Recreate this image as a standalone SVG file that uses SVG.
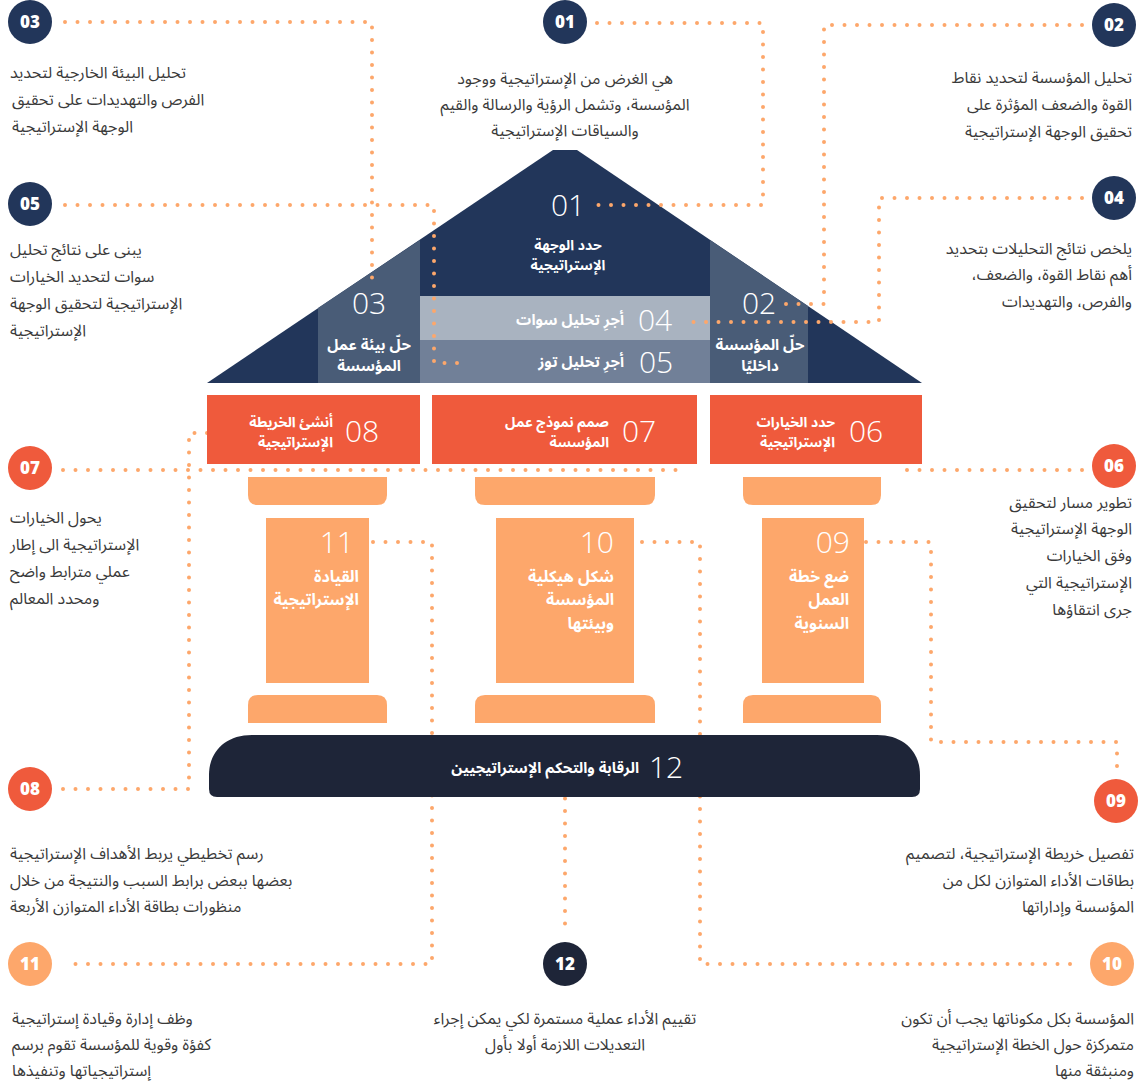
<svg xmlns="http://www.w3.org/2000/svg" width="1139" height="1082" viewBox="0 0 1139 1082">
<style>
.ar{font-family:"Noto Sans Arabic","DejaVu Sans",sans-serif;direction:rtl}
.desc{font-size:16px;fill:#3a3a3a}
.L{text-anchor:end}
.R{text-anchor:start}
.C{text-anchor:middle}
.lbl{font-size:14px;font-weight:bold;fill:#ffffff}
.lbl15{font-size:15px}
.lbl16{font-size:16px}
.num{font-family:"Open Sans",sans-serif;font-weight:300;font-size:30px;fill:#ffffff}
.cn{font-family:"Open Sans",sans-serif;font-weight:800;font-size:17px;fill:#ffffff;text-anchor:middle}
.dots{fill:none;stroke:#fda76b;stroke-width:4;stroke-linecap:round;stroke-dasharray:0 12.5}
.navy{fill:#22365a}
.red{fill:#ef5a3c}
.lor{fill:#fda76b}
.dark{fill:#1e2538}
</style>
<rect width="1139" height="1082" fill="#ffffff"/>

<g id="house">
  <polygon class="navy" points="207,383 553,150 577,150 922,383"/>
  <polygon fill="#495c77" points="318,383 318,308 420,240 420,383"/>
  <polygon fill="#495c77" points="710,240 710,383 808,383 808,306"/>
  <rect x="420" y="296" width="290" height="44" fill="#a9b3c0"/>
  <rect x="420" y="340" width="290" height="43" fill="#718098"/>
  <path class="lor" d="M248,477 H387 V495 Q387,505 377,505 H258 Q248,505 248,495 Z"/>
  <path class="lor" d="M475,477 H655 V495 Q655,505 645,505 H485 Q475,505 475,495 Z"/>
  <path class="lor" d="M743,477 H881 V495 Q881,505 871,505 H753 Q743,505 743,495 Z"/>
  <path class="lor" d="M248,723 V705 Q248,695 258,695 H377 Q387,695 387,705 V723 Z"/>
  <path class="lor" d="M475,723 V705 Q475,695 485,695 H645 Q655,695 655,705 V723 Z"/>
  <path class="lor" d="M743,723 V705 Q743,695 753,695 H871 Q881,695 881,705 V723 Z"/>
</g>

<g id="connectors">
  <polyline class="dots" points="65,22 372,22 372,280"/>
  <polyline class="dots" points="65,205 434,205 434,363 466,363"/>
  <polyline class="dots" points="597,23 763,23 763,205 590,205"/>
  <polyline class="dots" points="1082,25 824,25 824,304 784,304"/>
  <polyline class="dots" points="1082,198 879,198 879,322 684,322"/>
  <polyline class="dots" points="63,470 677,470 677,446"/>
  <polyline class="dots" points="1082,470 903,470 903,446"/>
  <polyline class="dots" points="63,789 189,789 189,433 222,433"/>
  <polyline class="dots" points="866,542 931,542 931,742 1117,742 1117,778"/>
  <polyline class="dots" points="642,542 700,542 700,964 1080,964"/>
  <polyline class="dots" points="373,542 432,542 432,964 63,964"/>
  <polyline class="dots" points="565,786 565,936"/>
</g>

<g id="n01-roof">
  <text class="num" x="568" y="216" text-anchor="middle">01</text>
  <text class="ar lbl C" x="568" y="250">حدد الوجهة</text>
  <text class="ar lbl C" x="568" y="270">الإستراتيجية</text>
</g>
<g id="n03-panel">
  <text class="num" x="369" y="314" text-anchor="middle">03</text>
  <text class="ar lbl lbl15 C" x="369" y="350">حلّ بيئة عمل</text>
  <text class="ar lbl lbl15 C" x="369" y="371">المؤسسة</text>
</g>
<g id="n02-panel">
  <text class="num" x="759" y="314" text-anchor="middle">02</text>
  <text class="ar lbl lbl15 C" x="760" y="350">حلّ المؤسسة</text>
  <text class="ar lbl lbl15 C" x="760" y="371">داخليًا</text>
</g>
<g id="n04-band">
  <text class="num" x="655" y="331" text-anchor="middle">04</text>
  <text class="ar lbl lbl15 R" x="624" y="325">أجرِ تحليل سوات</text>
</g>
<g id="n05-band">
  <text class="num" x="656" y="373" text-anchor="middle">05</text>
  <text class="ar lbl lbl15 R" x="624" y="367">أجرِ تحليل توز</text>
</g>

<g id="n08-box">
  <rect class="red" x="207" y="395" width="213" height="69"/>
  <text class="num" x="362" y="442" text-anchor="middle">08</text>
  <text class="ar lbl R" x="333" y="427">أنشئ الخريطة</text>
  <text class="ar lbl R" x="333" y="447">الإستراتيجية</text>
</g>
<g id="n07-box">
  <rect class="red" x="432" y="395" width="265" height="69"/>
  <text class="num" x="639" y="442" text-anchor="middle">07</text>
  <text class="ar lbl R" x="609" y="427">صمم نموذج عمل</text>
  <text class="ar lbl R" x="609" y="447">المؤسسة</text>
</g>
<g id="n06-box">
  <rect class="red" x="710" y="395" width="212" height="69"/>
  <text class="num" x="866" y="442" text-anchor="middle">06</text>
  <text class="ar lbl R" x="835" y="427">حدد الخيارات</text>
  <text class="ar lbl R" x="835" y="447">الإستراتيجية</text>
</g>

<g id="n11-column">
  <rect class="lor" x="266" y="518" width="103" height="165"/>
  <text class="num" x="354" y="553" text-anchor="end">11</text>
  <text class="ar lbl lbl16 R" x="359" y="582">القيادة</text>
  <text class="ar lbl lbl16 R" x="359" y="605">الإستراتيجية</text>
</g>
<g id="n10-column">
  <rect class="lor" x="496" y="518" width="138" height="165"/>
  <text class="num" x="614" y="553" text-anchor="end">10</text>
  <text class="ar lbl lbl16 R" x="614" y="582">شكل هيكلية</text>
  <text class="ar lbl lbl16 R" x="614" y="605">المؤسسة</text>
  <text class="ar lbl lbl16 R" x="614" y="629">وبيئتها</text>
</g>
<g id="n09-column">
  <rect class="lor" x="762" y="518" width="102" height="165"/>
  <text class="num" x="850" y="553" text-anchor="end">09</text>
  <text class="ar lbl lbl16 R" x="849" y="582">ضع خطة</text>
  <text class="ar lbl lbl16 R" x="849" y="605">العمل</text>
  <text class="ar lbl lbl16 R" x="849" y="629">السنوية</text>
</g>

<g id="n12-foundation">
  <path class="dark" d="M209,789 V775 C209,752 225,735 252,735 H877 C904,735 920,752 920,775 V789 Q920,797 912,797 H217 Q209,797 209,789 Z"/>
  <text class="num" x="666" y="778" text-anchor="middle">12</text>
  <text class="ar lbl lbl15 R" x="639" y="773">الرقابة والتحكم الإستراتيجيين</text>
</g>

<g id="c03">
  <circle class="navy" cx="30" cy="22" r="22"/>
  <text class="cn" x="30" y="28">03</text>
  <text class="ar desc L" x="10" y="78">تحليل البيئة الخارجية لتحديد</text>
  <text class="ar desc L" x="12" y="105">الفرص والتهديدات على تحقيق</text>
  <text class="ar desc L" x="12" y="132">الوجهة الإستراتيجية</text>
</g>
<g id="c01">
  <circle class="navy" cx="565" cy="22" r="22"/>
  <text class="cn" x="565" y="28">01</text>
  <text class="ar desc C" x="565" y="84">هي الغرض من الإستراتيجية ووجود</text>
  <text class="ar desc C" x="565" y="110">المؤسسة، وتشمل الرؤية والرسالة والقيم</text>
  <text class="ar desc C" x="565" y="136">والسياقات الإستراتيجية</text>
</g>
<g id="c02">
  <circle class="navy" cx="1114" cy="25" r="22"/>
  <text class="cn" x="1114" y="31">02</text>
  <text class="ar desc R" x="1132" y="83">تحليل المؤسسة لتحديد نقاط</text>
  <text class="ar desc R" x="1132" y="110">القوة والضعف المؤثرة على</text>
  <text class="ar desc R" x="1132" y="137">تحقيق الوجهة الإستراتيجية</text>
</g>
<g id="c05">
  <circle class="navy" cx="30" cy="204" r="22"/>
  <text class="cn" x="30" y="210">05</text>
  <text class="ar desc L" x="10" y="255">يبنى على نتائج تحليل</text>
  <text class="ar desc L" x="10" y="282">سوات لتحديد الخيارات</text>
  <text class="ar desc L" x="10" y="309">الإستراتيجية لتحقيق الوجهة</text>
  <text class="ar desc L" x="10" y="336">الإستراتيجية</text>
</g>
<g id="c04">
  <circle class="navy" cx="1114" cy="198" r="22"/>
  <text class="cn" x="1114" y="204">04</text>
  <text class="ar desc R" x="1132" y="254">يلخص نتائج التحليلات بتحديد</text>
  <text class="ar desc R" x="1132" y="280">أهم نقاط القوة، والضعف،</text>
  <text class="ar desc R" x="1132" y="307">والفرص، والتهديدات</text>
</g>
<g id="c07">
  <circle class="red" cx="30" cy="468" r="22"/>
  <text class="cn" x="30" y="474">07</text>
  <text class="ar desc L" x="10" y="523">يحول الخيارات</text>
  <text class="ar desc L" x="10" y="550">الإستراتيجية الى إطار</text>
  <text class="ar desc L" x="10" y="577">عملي مترابط واضح</text>
  <text class="ar desc L" x="10" y="604">ومحدد المعالم</text>
</g>
<g id="c06">
  <circle class="red" cx="1114" cy="466" r="22"/>
  <text class="cn" x="1114" y="472">06</text>
  <text class="ar desc R" x="1132" y="508">تطوير مسار لتحقيق</text>
  <text class="ar desc R" x="1132" y="534">الوجهة الإستراتيجية</text>
  <text class="ar desc R" x="1132" y="561">وفق الخيارات</text>
  <text class="ar desc R" x="1132" y="588">الإستراتيجية التي</text>
  <text class="ar desc R" x="1132" y="615">جرى انتقاؤها</text>
</g>
<g id="c08">
  <circle class="red" cx="30" cy="789" r="22"/>
  <text class="cn" x="30" y="795">08</text>
  <text class="ar desc L" x="10" y="859">رسم تخطيطي يربط الأهداف الإستراتيجية</text>
  <text class="ar desc L" x="10" y="886">بعضها ببعض برابط السبب والنتيجة من خلال</text>
  <text class="ar desc L" x="10" y="912">منظورات بطاقة الأداء المتوازن الأربعة</text>
</g>
<g id="c09">
  <circle class="red" cx="1116" cy="801" r="22"/>
  <text class="cn" x="1116" y="807">09</text>
  <text class="ar desc R" x="1134" y="859">تفصيل خريطة الإستراتيجية، لتصميم</text>
  <text class="ar desc R" x="1134" y="886">بطاقات الأداء المتوازن لكل من</text>
  <text class="ar desc R" x="1134" y="912">المؤسسة وإداراتها</text>
</g>
<g id="c11">
  <circle class="lor" cx="30" cy="964" r="22"/>
  <text class="cn" x="30" y="970">11</text>
  <text class="ar desc L" x="12" y="1024">وظف إدارة وقيادة إستراتيجية</text>
  <text class="ar desc L" x="12" y="1050">كفؤة وقوية للمؤسسة تقوم برسم</text>
  <text class="ar desc L" x="12" y="1076">إستراتيجياتها وتنفيذها</text>
</g>
<g id="c12">
  <circle class="dark" cx="565" cy="964" r="22"/>
  <text class="cn" x="565" y="970">12</text>
  <text class="ar desc C" x="565" y="1024">تقييم الأداء عملية مستمرة لكي يمكن إجراء</text>
  <text class="ar desc C" x="565" y="1050">التعديلات اللازمة أولا بأول</text>
</g>
<g id="c10">
  <circle class="lor" cx="1112" cy="964" r="22"/>
  <text class="cn" x="1112" y="970">10</text>
  <text class="ar desc R" x="1134" y="1024">المؤسسة بكل مكوناتها يجب أن تكون</text>
  <text class="ar desc R" x="1134" y="1050">متمركزة حول الخطة الإستراتيجية</text>
  <text class="ar desc R" x="1134" y="1076">ومنبثقة منها</text>
</g>
</svg>
